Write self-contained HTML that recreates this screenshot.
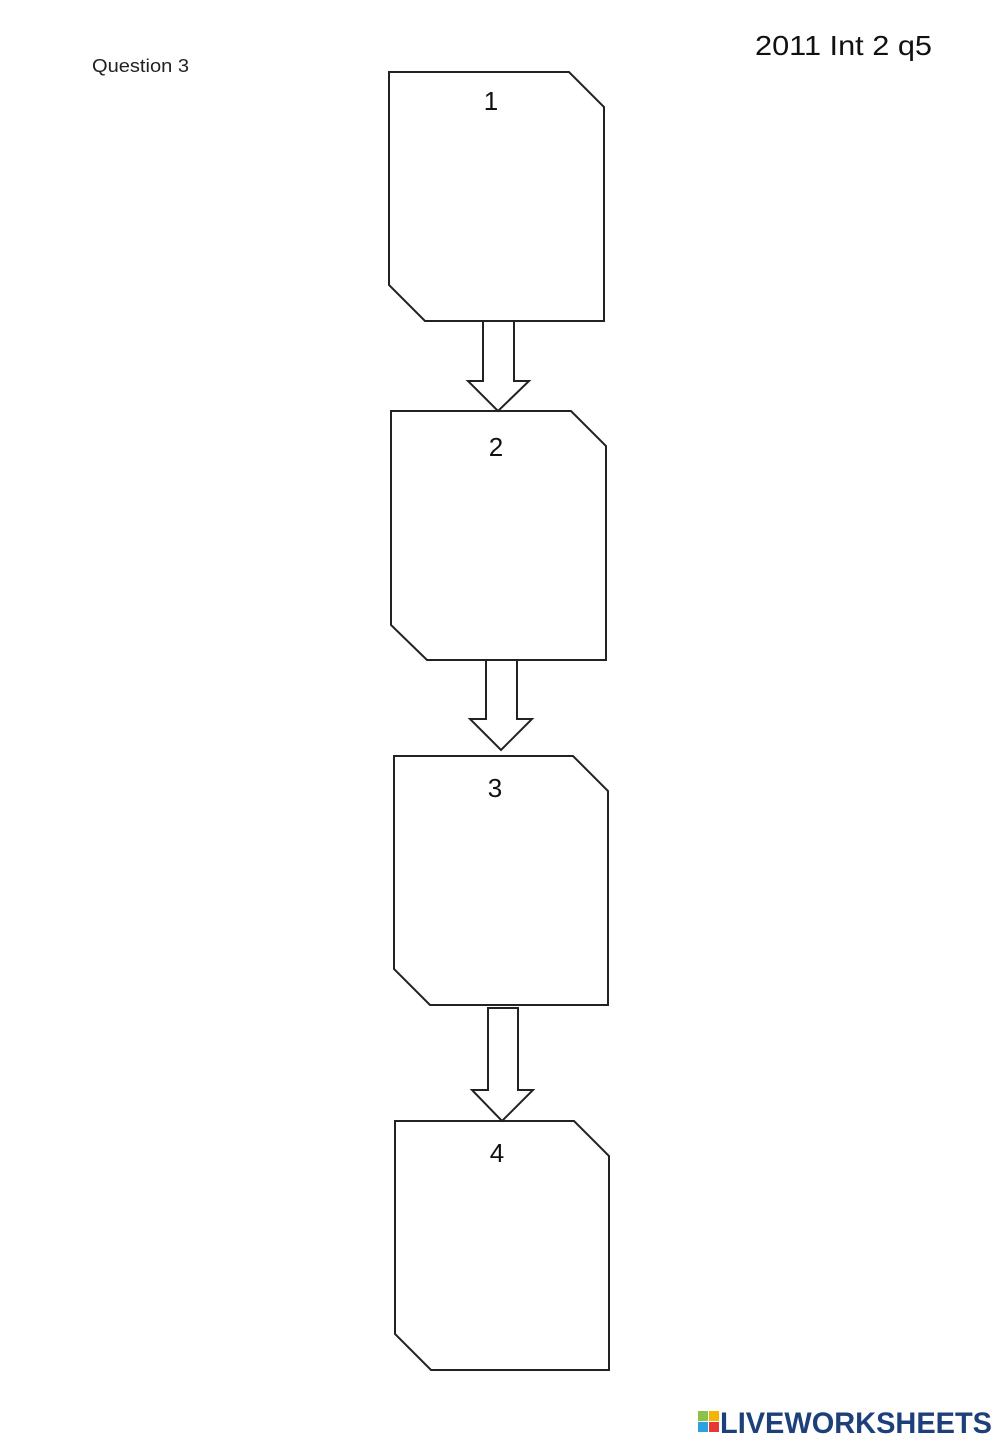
<!DOCTYPE html>
<html><head><style>body{margin:0;background:#fff}</style></head><body>
<svg width="1000" height="1443" xmlns="http://www.w3.org/2000/svg" style="display:block">
<rect width="1000" height="1443" fill="#fff"/>
<g fill="#fff" stroke="#222" stroke-width="2">
<polygon points="389,72 569,72 604,107 604,321 425,321 389,285"/>
<polygon points="391,411 571,411 606,446 606,660 427,660 391,625"/>
<polygon points="394,756 573,756 608,791 608,1005 430,1005 394,969"/>
<polygon points="395,1121 574,1121 609,1156 609,1370 431,1370 395,1334"/>
<polygon points="483,321 514,321 514,381 529,381 498,411 468,381 483,381"/>
<polygon points="486,660 517,660 517,719 532,719 501,750 470,719 486,719"/>
<polygon points="488,1008 518,1008 518,1090 533,1090 502,1121 472,1090 488,1090"/>
</g>
<g font-family="Liberation Sans, sans-serif" fill="#111" text-anchor="middle" font-size="26">
<text x="491" y="110">1</text>
<text x="496" y="456">2</text>
<text x="495" y="797">3</text>
<text x="497" y="1162">4</text>
</g>
<text x="92" y="72" font-family="Liberation Sans, sans-serif" font-size="18" fill="#222" textLength="97" lengthAdjust="spacingAndGlyphs">Question 3</text>
<text x="755" y="55" font-family="Liberation Sans, sans-serif" font-size="28" fill="#111" textLength="177" lengthAdjust="spacingAndGlyphs">2011 Int 2 q5</text>
<rect x="698" y="1411" width="10" height="10" fill="#8bc34a"/><rect x="709" y="1411" width="10" height="10" fill="#f5b400"/>
<rect x="698" y="1422" width="10" height="10" fill="#29a3e0"/><rect x="709" y="1422" width="10" height="10" fill="#e53935"/>
<text x="720" y="1433" font-family="Liberation Sans, sans-serif" font-weight="bold" font-size="30" fill="#1d3f7a" textLength="272" lengthAdjust="spacingAndGlyphs">LIVEWORKSHEETS</text>
</svg>
</body></html>
